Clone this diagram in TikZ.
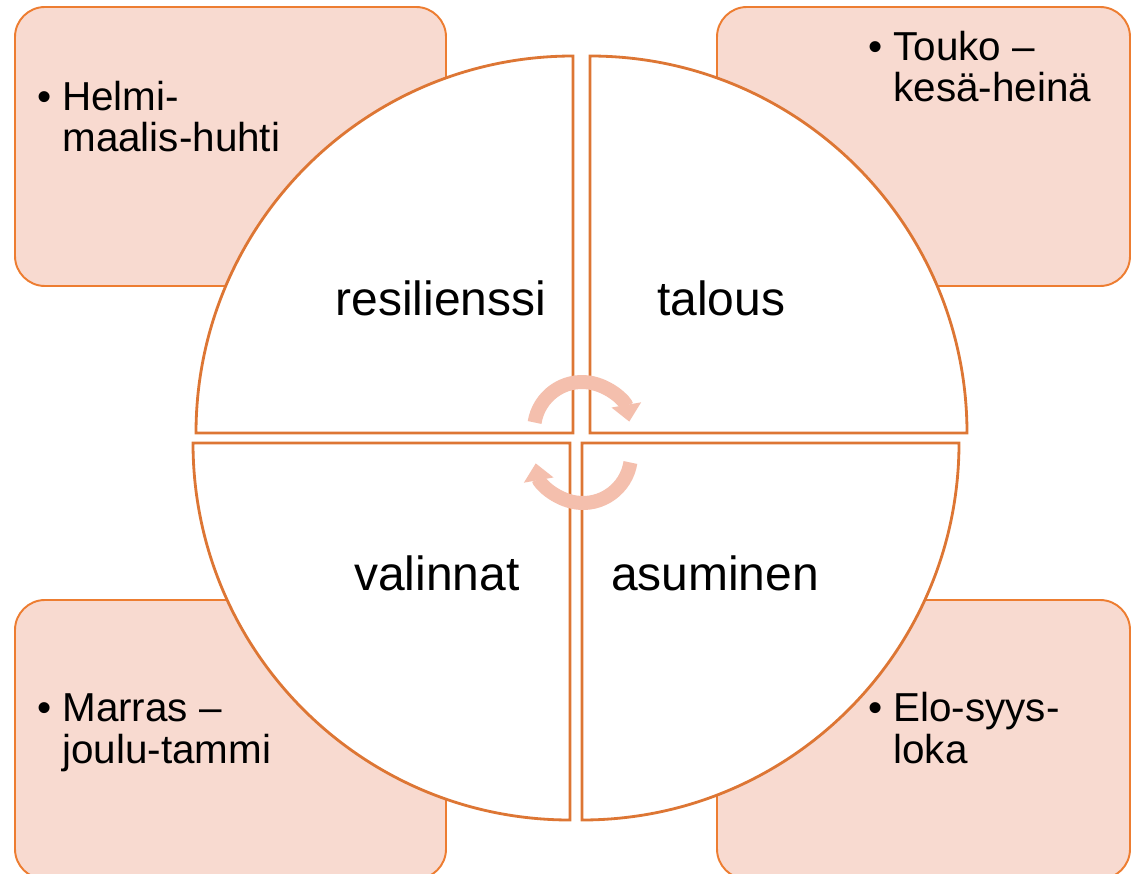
\documentclass[tikz,border=0pt]{standalone}
\usepackage{fontspec}
\setmainfont{Liberation Sans}
\usepackage{xcolor}
\usepackage{tikz}
\usetikzlibrary{arrows.meta}

\definecolor{boxfill}{HTML}{F8DAD0}
\definecolor{boxline}{HTML}{ED7D31}
\definecolor{quarterline}{HTML}{DD7634}
\definecolor{arrowpeach}{HTML}{F4BFAD}

\tikzset{
  monthbox/.style={draw=boxline,fill=boxfill,line width=1.1pt,rounded corners=0.6cm},
  quarter/.style={draw=quarterline,fill=white,line width=1.6pt,line join=miter},
  cyclearrow/.style={draw=arrowpeach,line width=0.28cm,-{Triangle[length=0.34cm,width=0.58cm]}},
  topic/.style={inner sep=0pt,anchor=base,font=\fontsize{27.3}{30}\selectfont},
  months/.style={inner sep=0pt,anchor=base west,align=left,font=\fontsize{23}{23.4}\selectfont}
}
\newcommand{\bul}{\llap{\textbullet\hspace{0.22cm}}}

\begin{document}
\begin{tikzpicture}[x=0.02cm,y=0.02cm]
  \useasboundingbox (0,0) rectangle (1131,873);
  % month boxes in the corners
  \draw[monthbox] (15,587) rectangle (446,866);
  \draw[monthbox] (717,587) rectangle (1130,866);
  \draw[monthbox] (15,-6) rectangle (446,273);
  \draw[monthbox] (717,-6) rectangle (1130,273);
  % four quarters of the circle
  \draw[quarter] (573,440) -- (573,817) arc[start angle=90,end angle=180,radius=377] -- cycle;
  \draw[quarter] (590,440) -- (967,440) arc[start angle=0,end angle=90,radius=377] -- cycle;
  \draw[quarter] (570,430) -- (193,430) arc[start angle=180,end angle=270,radius=377] -- cycle;
  \draw[quarter] (582,430) -- (582,53) arc[start angle=270,end angle=360,radius=377] -- cycle;
  % cycle arrows in the middle
  \draw[cyclearrow] ([shift={(171:48)}]582,443) arc[start angle=171,end angle=10,radius=48];
  \draw[cyclearrow] ([shift={(-9:48)}]583,418) arc[start angle=-9,end angle=-170,radius=48];

  \node[topic] (res) at (441,558) {resilienssi};
  \node[topic] (tal) at (721,558) {talous};
  \node[topic] (val) at (437,283) {valinnat};
  \node[topic] (asu) at (715,283) {asuminen};

  % anchored at the baseline of the last line
  \node[months] (helmi) at (62,721) {\bul Helmi-\\maalis-huhti};
  \node[months] (touko) at (893,771) {\bul Touko –\\kesä-heinä};
  \node[months] (marras) at (62,110) {\bul Marras –\\joulu-tammi};
  \node[months] (elo) at (893,110) {\bul Elo-syys-\\loka};
\end{tikzpicture}
\end{document}
